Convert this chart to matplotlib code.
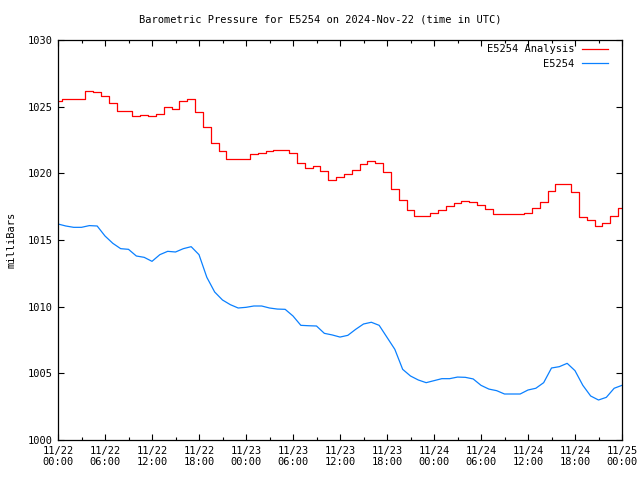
import numpy as np
import matplotlib
matplotlib.use("Agg")
import matplotlib.pyplot as plt
from matplotlib.ticker import MultipleLocator

# hours since 2024-11-22 00:00 UTC
hours = list(range(73))

analysis = [
    1025.4, 1025.55, 1025.55, 1025.6, 1026.15, 1026.07, 1025.8, 1025.3, 1024.7, 1024.7,
    1024.3, 1024.37, 1024.3, 1024.45, 1024.95, 1024.8, 1025.4, 1025.55, 1024.6, 1023.5,
    1022.3, 1021.7, 1021.1, 1021.1, 1021.1, 1021.43, 1021.5, 1021.67, 1021.73, 1021.73,
    1021.5, 1020.75, 1020.4, 1020.55, 1020.2, 1019.5, 1019.75, 1019.95, 1020.25, 1020.68,
    1020.9, 1020.75, 1020.08, 1018.8, 1018.0, 1017.25, 1016.8, 1016.8, 1017.0, 1017.25,
    1017.57, 1017.75, 1017.95, 1017.85, 1017.65, 1017.3, 1016.93, 1016.93, 1016.93, 1016.93,
    1017.05, 1017.37, 1017.87, 1018.67, 1019.18, 1019.18, 1018.58, 1016.7, 1016.5, 1016.05,
    1016.25, 1016.8, 1017.37,
]

station = [
    1016.2, 1016.05, 1015.95, 1015.95, 1016.08, 1016.05, 1015.3, 1014.75, 1014.35, 1014.3,
    1013.8, 1013.7, 1013.4, 1013.9, 1014.15, 1014.1, 1014.35, 1014.5, 1013.9, 1012.2,
    1011.1, 1010.5, 1010.15, 1009.9, 1009.95, 1010.05, 1010.05, 1009.9, 1009.82, 1009.8,
    1009.3, 1008.6, 1008.57, 1008.55, 1008.0, 1007.88, 1007.72, 1007.85, 1008.3, 1008.7,
    1008.83, 1008.6, 1007.7, 1006.8, 1005.3, 1004.8, 1004.5, 1004.3, 1004.45, 1004.6,
    1004.6, 1004.72, 1004.7, 1004.58, 1004.1, 1003.82, 1003.7, 1003.45, 1003.45, 1003.45,
    1003.75, 1003.88, 1004.3, 1005.4, 1005.5, 1005.75, 1005.2, 1004.1, 1003.3, 1003.0,
    1003.2, 1003.88, 1004.1,
]

xtick_hours = list(range(0, 73, 6))
xtick_labels = [
    "11/22\n00:00", "11/22\n06:00", "11/22\n12:00", "11/22\n18:00",
    "11/23\n00:00", "11/23\n06:00", "11/23\n12:00", "11/23\n18:00",
    "11/24\n00:00", "11/24\n06:00", "11/24\n12:00", "11/24\n18:00",
    "11/25\n00:00",
]

plt.rcParams["font.family"] = ["DejaVu Sans Mono"]
plt.rcParams["font.size"] = 7.5

fig = plt.figure(figsize=(6.4, 4.8), dpi=100)
ax = fig.add_axes([58 / 640, 40 / 480, 564 / 640, 400 / 480])

ax.plot(hours, analysis, color="#ff0000", lw=0.9, drawstyle="steps-mid",
        label="E5254 Analysis")
ax.plot(hours, station, color="#0a80ff", lw=0.9, label="E5254")

ax.set_xlim(0, 72)
ax.set_ylim(1000, 1030)
ax.set_xticks(xtick_hours)
ax.set_xticklabels(xtick_labels)
ax.xaxis.set_minor_locator(MultipleLocator(3))
ax.yaxis.set_major_locator(MultipleLocator(5))
ax.tick_params(which="both", direction="in", top=True, right=True, width=0.8)
ax.tick_params(which="major", length=4, pad=4)
ax.tick_params(which="minor", length=2)
for sp in ax.spines.values():
    sp.set_linewidth(0.9)

ax.set_ylabel("milliBars", labelpad=8)
fig.text(0.5, 1 - 19 / 480, "Barometric Pressure for E5254 on 2024-Nov-22 (time in UTC)",
         ha="center", va="center", fontsize=7.5)

ax.legend(loc="upper right", bbox_to_anchor=(1 - 10 / 564, 1), frameon=False,
          markerfirst=False, handlelength=2.5, borderaxespad=0.1, borderpad=0.3,
          labelspacing=0.45, handletextpad=0.7)

plt.savefig("out.png", dpi=100)
